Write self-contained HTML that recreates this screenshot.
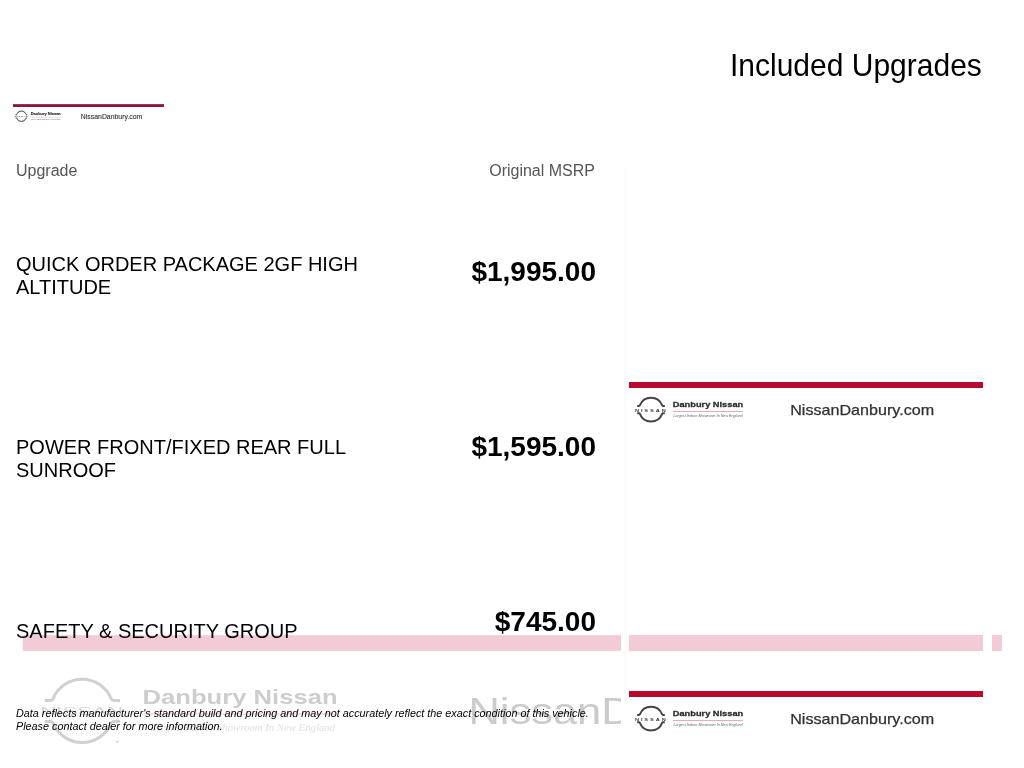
<!DOCTYPE html>
<html>
<head>
<meta charset="utf-8">
<title>Included Upgrades</title>
<style>
html,body{margin:0;padding:0;background:#fff;}
body{width:1024px;height:768px;position:relative;overflow:hidden;will-change:transform;font-family:"Liberation Sans",sans-serif;color:#000;}
.abs{position:absolute;white-space:nowrap;}
.title{left:730px;top:48px;font-size:30px;line-height:34px;color:#000;transform:scaleY(1.04);transform-origin:0 7px;}
.hdr{font-size:16px;line-height:18px;color:#555;}
.lbl{left:16px;font-size:20px;line-height:23px;color:#000;white-space:normal;width:380px;}
.price{right:428px;font-size:28px;line-height:30px;font-weight:bold;color:#000;text-align:right;}
.foot{left:16px;top:707px;font-size:10.8px;line-height:12.6px;font-style:italic;color:#000;}
svg{position:absolute;overflow:visible;}
.strip{position:absolute;left:624px;top:168px;width:3px;height:522px;background:#fcfcfc;}
</style>
</head>
<body>
<svg width="0" height="0" style="position:absolute">
<defs>
<rect id="bar" x="0" y="0" width="354" height="6" fill="#b8092f"/>
<g id="banner">
  <g fill="none" stroke="#444" stroke-width="2" stroke-linejoin="round">
    <path d="M8.2 23.9 H10 Q10.6 23.9 10.9 23.3 A11.9 11.9 0 0 1 33.1 23.3 Q33.4 23.9 34 23.9 H35.8"/>
    <path d="M8.2 31.3 H10 Q10.6 31.3 10.9 31.9 A11.9 11.9 0 0 0 33.1 31.9 Q33.4 31.3 34 31.3 H35.8"/>
  </g>
  <text transform="translate(5.9 29.5) scale(1.35 1)" font-family="Liberation Sans, sans-serif" font-weight="bold" font-size="4.2" fill="#3e3e3e" textLength="22.9" lengthAdjust="spacing">NISSAN</text>
  <text x="43.8" y="24.9" font-family="Liberation Sans, sans-serif" font-weight="bold" font-size="8" fill="#2e2e2e" stroke="#2e2e2e" stroke-width="0.3" textLength="70.4" lengthAdjust="spacingAndGlyphs">Danbury Nissan</text>
  <rect x="44" y="29.1" width="70" height="0.7" fill="#d98a97"/>
  <text x="44.5" y="34.9" font-family="Liberation Sans, sans-serif" font-style="italic" font-size="3.6" fill="#666" textLength="69" lengthAdjust="spacingAndGlyphs">Largest Indoor Showroom In New England</text>
  <text x="161.2" y="33.1" font-family="Liberation Sans, sans-serif" font-size="15" fill="#303030" stroke="#303030" stroke-width="0.25" textLength="144" lengthAdjust="spacingAndGlyphs">NissanDanbury.com</text>
</g>
</defs>
</svg>

<!-- watermark (large faded banner) -->
<div style="position:absolute;left:0;top:0;width:621px;height:768px;overflow:hidden;">
  <svg style="left:0;top:0" width="1024" height="768">
    <rect x="22.7" y="635.2" width="700" height="15.7" fill="#f3cbd5"/>
    <g fill="none" stroke="#d0d0d0" stroke-width="3" stroke-linejoin="round">
      <path d="M44.6 700.4 H50.4 Q52.3 700.4 53.1 698.6 A31.4 31.4 0 0 1 111.1 698.6 Q111.9 700.4 113.8 700.4 H120"/>
      <path d="M44.6 721.4 H50.4 Q52.3 721.4 53.1 723.2 A31.4 31.4 0 0 0 111.1 723.2 Q111.9 721.4 113.8 721.4 H120"/>
    </g>
    <text x="40.2" y="714.6" font-family="Liberation Sans, sans-serif" font-size="11.6" fill="#d6d6d6" textLength="83" lengthAdjust="spacingAndGlyphs">NISSAN</text>
    <circle cx="117.3" cy="741.7" r="1.2" fill="#dcdcdc"/>
    <text x="142.6" y="703.8" font-family="Liberation Sans, sans-serif" font-weight="bold" font-size="20.8" fill="#cdcdcd" textLength="195" lengthAdjust="spacingAndGlyphs">Danbury Nissan</text>
    <rect x="144" y="713" width="192" height="2" fill="#f8dfe3"/>
    <text x="150" y="730.5" font-family="Liberation Serif, serif" font-style="italic" font-size="11" fill="#e0e0e0" textLength="185" lengthAdjust="spacingAndGlyphs">Largest Indoor Showroom In New England</text>
    <text x="468.4" y="723.9" font-family="Liberation Sans, sans-serif" font-size="36.9" fill="#cbcbcb" textLength="388" lengthAdjust="spacingAndGlyphs">NissanDanbury.com</text>
  </svg>
</div>
<div style="position:absolute;left:629.4px;top:635.2px;width:354px;height:15.7px;background:#f3cbd5;"></div>
<div style="position:absolute;left:991.8px;top:635.2px;width:10px;height:15.7px;background:#f3cbd5;"></div>
<div class="strip"></div>

<div class="abs title">Included Upgrades</div>

<!-- small banner top-left -->
<div style="position:absolute;left:12.5px;top:104.2px;width:151px;height:3px;background:linear-gradient(#bd3560,#8a1c3e 45%,#7a1835);"></div>
<svg style="left:12.3px;top:104.2px" width="152" height="24"><use href="#banner" transform="scale(0.427,0.445)"/><circle cx="9.35" cy="12.1" r="5" fill="none" stroke="#555" stroke-width="0.7" opacity="0.55"/></svg>

<div class="abs hdr" style="left:16px;top:161.6px;">Upgrade</div>
<div class="abs hdr" style="right:429px;top:161.6px;">Original MSRP</div>

<div class="abs lbl" style="top:253px;">QUICK ORDER PACKAGE 2GF HIGH ALTITUDE</div>
<div class="abs price" style="top:257px;">$1,995.00</div>

<div class="abs lbl" style="top:436px;">POWER FRONT/FIXED REAR FULL SUNROOF</div>
<div class="abs price" style="top:432px;">$1,595.00</div>

<div class="abs lbl" style="top:620px;">SAFETY &amp; SECURITY GROUP</div>
<div class="abs price" style="top:607px;">$745.00</div>

<!-- right banners -->
<svg style="left:629.4px;top:381.7px" width="354" height="50"><use href="#bar"/><use href="#banner"/></svg>
<svg style="left:629.4px;top:691.2px" width="354" height="50"><use href="#bar"/><use href="#banner"/></svg>

<div class="abs foot">Data reflects manufacturer's standard build and pricing and may not accurately reflect the exact condition of this vehicle.<br>Please contact dealer for more information.</div>
</body>
</html>
